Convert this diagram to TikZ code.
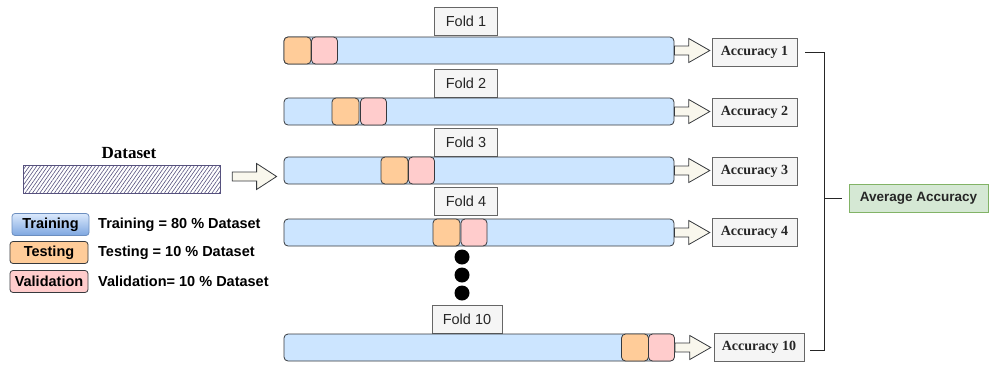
\documentclass[tikz,border=0pt]{standalone}
\usepackage{fontspec}
\setmainfont{Liberation Serif}
\setsansfont{Liberation Sans}
\usetikzlibrary{calc,patterns.meta}
\definecolor{barblue}{HTML}{CCE5FF}
\definecolor{barline}{HTML}{36393D}
\definecolor{org}{HTML}{FFCC99}
\definecolor{pnk}{HTML}{FFCCCC}
\definecolor{lab}{HTML}{F5F5F5}
\definecolor{labline}{HTML}{666666}
\definecolor{grn}{HTML}{D5E8D4}
\definecolor{grnline}{HTML}{82B366}
\definecolor{arrfill}{HTML}{F9F7ED}
\definecolor{purp}{HTML}{56517E}
\definecolor{tbA}{HTML}{DAE8FC}
\definecolor{tbB}{HTML}{7EA6E0}
\definecolor{tbl}{HTML}{6C8EBF}
\newcommand{\harrow}[5]{%
  \draw[harr] let \p1=(#1), \p2=(#2) in
    (\x1,\y1+#3) -- (\x2-#5,\y1+#3) -- (\x2-#5,\y1+#4) -- (\x2,\y1)
    -- (\x2-#5,\y1-#4) -- (\x2-#5,\y1-#3) -- (\x1,\y1-#3) -- cycle;}
\tikzset{
  x=1pt, y=-1pt,
  bar/.style={draw=barline, fill=barblue, rounded corners=4pt, minimum width=390pt, minimum height=27pt, inner sep=0pt, line width=0.8pt},
  tst/.style={draw=barline, fill=org, rounded corners=4pt, minimum width=27pt, minimum height=27pt, inner sep=0pt, line width=0.8pt},
  val/.style={draw=barline, fill=pnk, rounded corners=4pt, minimum width=26pt, minimum height=27pt, inner sep=0pt, line width=0.8pt},
  foldlab/.style={draw=labline, fill=lab, minimum width=63pt, minimum height=28pt, inner sep=0pt, text=black!85, font=\sffamily\fontsize{14.5pt}{16pt}\selectfont},
  acc/.style={draw=labline, fill=lab, minimum width=85pt, minimum height=28pt, inner sep=0pt, text=black!85, font=\bfseries\fontsize{14pt}{16pt}\selectfont},
  harr/.style={draw=barline, fill=arrfill, line width=0.8pt, line join=miter},
  legbox/.style={rounded corners=3pt, minimum height=22pt, inner sep=0pt, line width=0.8pt, font=\sffamily\bfseries\fontsize{14.5pt}{16pt}\selectfont},
  legtxt/.style={anchor=west, inner sep=0pt, font=\sffamily\bfseries\fontsize{14.5pt}{16pt}\selectfont},
  dot/.style={circle, fill=black, minimum size=15pt, inner sep=0pt},
}
\begin{document}
\begin{tikzpicture}
\useasboundingbox (0,0) rectangle (989,365);
% dataset
\node[font=\bfseries\fontsize{17pt}{19pt}\selectfont, inner sep=0pt] (dstitle) at (129,153) {Dataset};
\node[draw=purp, line width=1pt, pattern={Lines[angle=55,distance=3pt,line width=0.6pt]}, pattern color=purp, minimum width=197pt, minimum height=28pt, inner sep=0pt] (ds) at (121.5,179) {};
% legend
\node[legbox, draw=tbl, top color=tbA, bottom color=tbB, minimum width=77pt] (ltr) at (50.5,224.5) {Training};
\node[legbox, draw=barline, fill=org, minimum width=78pt] (lte) at (49,252.5) {Testing};
\node[legbox, draw=barline, fill=pnk, minimum width=78pt] (lva) at (49,281.5) {Validation};
\node[legtxt] (ttr) at (98,224.5) {Training = 80 \% Dataset};
\node[legtxt] (tte) at (98,252.5) {Testing = 10 \% Dataset};
\node[legtxt] (tva) at (98,281.5) {Validation= 10 \% Dataset};
% fold labels
\node[foldlab] (f1) at (466,21.5) {Fold 1};
\node[foldlab] (f2) at (466,83) {Fold 2};
\node[foldlab] (f3) at (466,142) {Fold 3};
\node[foldlab] (f4) at (466,201.5) {Fold 4};
\node[foldlab, minimum width=70pt] (f10) at (467,319) {Fold 10};
% bars
\node[bar] (b1) at (479,50.5) {};
\node[bar] (b2) at (479,111.5) {};
\node[bar] (b3) at (479,170.5) {};
\node[bar] (b4) at (479,232.5) {};
\node[bar] (b10) at (479,347.5) {};
\node[tst] (t1) at (297.5,50.5) {};
\node[val] (v1) at (324.5,50.5) {};
\node[tst] (t2) at (345.5,111.5) {};
\node[val] (v2) at (373.5,111.5) {};
\node[tst] (t3) at (394.5,170.5) {};
\node[val] (v3) at (421.5,170.5) {};
\node[tst] (t4) at (446.5,232.5) {};
\node[val] (v4) at (474,232.5) {};
\node[tst] (t10) at (635,347.5) {};
\node[val] (v10) at (661.5,347.5) {};
% dots
\node[dot] (d1) at (462,257) {};
\node[dot] (d2) at (462,275) {};
\node[dot] (d3) at (462,293) {};
% accuracy boxes
\node[acc] (a1) at (754.5,52) {Accuracy 1};
\node[acc] (a2) at (754.5,112.5) {Accuracy 2};
\node[acc] (a3) at (754.5,171.5) {Accuracy 3};
\node[acc] (a4) at (754.5,232) {Accuracy 4};
\node[acc, minimum width=90pt] (a10) at (759,347.5) {Accuracy 10};
\node[draw=grnline, fill=grn, minimum width=139pt, minimum height=28pt, inner sep=0pt, text=black!85, font=\sffamily\bfseries\fontsize{13.5pt}{16pt}\selectfont] (avg) at (918.5,198.5) {Average Accuracy};
% block arrows
\coordinate (dsA) at ($(ds.east)+(12pt,2.5pt)$);
\coordinate (dsB) at ($(b3.west)+(-7pt,0)$);
\harrow{dsA}{dsB}{4.5pt}{13pt}{20pt}
\coordinate (e1) at ($(a1.west)+(-2pt,0)$);
\coordinate (e2) at ($(a2.west)+(-2pt,0)$);
\coordinate (e3) at ($(a3.west)+(-2pt,0)$);
\coordinate (e4) at ($(a4.west)+(-2pt,0)$);
\coordinate (e10) at ($(a10.west)+(-3pt,0)$);
\harrow{b1.east}{e1}{4.5pt}{12pt}{21pt}
\harrow{b2.east}{e2}{4.5pt}{12pt}{21pt}
\harrow{b3.east}{e3}{4.5pt}{12pt}{21pt}
\harrow{b4.east}{e4}{4.5pt}{12pt}{21pt}
\harrow{v10.east}{e10}{4.5pt}{12pt}{21pt}
% bracket
\coordinate (spine) at (824,0);
\coordinate (bt) at ($(a1.east)+(8pt,0)$);
\coordinate (bb) at ($(a10.east)+(6pt,-3pt)$);
\coordinate (ha) at ($(avg.west)+(-7pt,0)$);
\draw[line width=1pt, black!85] (bt) -- (bt -| spine) -- (bb -| spine) -- (bb);
\draw[line width=1pt, black!85] (ha -| spine) -- (ha);
\end{tikzpicture}
\end{document}
